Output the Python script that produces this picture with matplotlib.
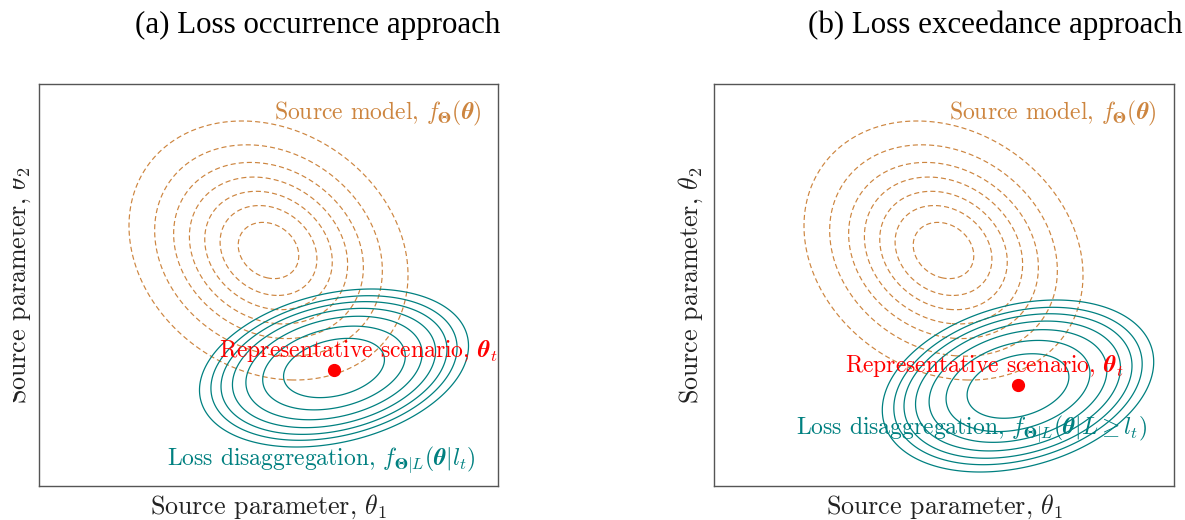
import numpy as np
import matplotlib
matplotlib.use("Agg")
import matplotlib.pyplot as plt
from matplotlib.patches import Rectangle

plt.rcParams['font.family'] = 'cmr10'
plt.rcParams['mathtext.fontset'] = 'cm'
plt.rcParams['axes.formatter.use_mathtext'] = True

# ---------------- data ----------------
panel_titles = ["(a) Loss occurrence approach", "(b) Loss exceedance approach"]
xlabel = r"Source parameter, $\theta_1$"
ylabel = r"Source parameter, $\theta_2$"
source_label = r"Source model, $f_{\boldsymbol{Θ}}(\boldsymbol{\theta})$"
scenario_label = r"Representative scenario, $\boldsymbol{\theta}_t$"
disagg_labels = [r"Loss disaggregation, $f_{\boldsymbol{Θ}|L}(\boldsymbol{\theta}|l_t)$",
                 r"Loss disaggregation, $f_{\boldsymbol{Θ}|L}(\boldsymbol{\theta}|L \geq l_t)$"]

# source model (same in both panels): centre, outer half-extents, correlation
source_center = (229.5, 235.5)
source_extent = (139.5, 129.5)
source_rho = -0.19
source_levels = [0.217, 0.347, 0.457, 0.567, 0.68, 0.816, 1.0]

# loss disaggregation, per panel
disagg_centers = [(295.0, 118.0), (304.0, 100.0)]
disagg_extents = [(134.5, 79.0), (135.7, 86.0)]
disagg_rho = [0.28, 0.28]
disagg_levels = [0.375, 0.53, 0.655, 0.755, 0.84, 0.915, 1.0]

# representative scenario points
scenario_x = [295.0, 304.3]
scenario_y = [116.0, 101.0]

# ---------------- style ----------------
C_SRC = '#CD853F'
C_DIS = '#008080'
C_RED = '#FF0000'
FS_IN = 17
FS_LAB = 18.7

W, H = 1185, 520
fig = plt.figure(figsize=(W / 100, H / 100), dpi=100)

axes_px = [(39, 84, 459, 402), (714, 84, 460, 402)]
src_text_x = [0.7386, 0.737]
scen_text = [(0.696, 0.320), (0.588, 0.284)]
dis_text = [(0.614, 0.052), (0.559, 0.129)]
ylabel_cx = [19, 690.5]


def mahal(X, Y, c, e, rho):
    u = (X - c[0]) / e[0]
    v = (Y - c[1]) / e[1]
    return np.sqrt((u * u - 2 * rho * u * v + v * v) / (1 - rho * rho))


for i in range(2):
    l, t, w, h = axes_px[i]
    ax = fig.add_axes([l / W, (H - t - h) / H, w / W, h / H])
    ax.set_xlim(0, w)
    ax.set_ylim(0, h)
    ax.set_xticks([])
    ax.set_yticks([])
    for sp in ax.spines.values():
        sp.set_color('#555555')
        sp.set_linewidth(1.0)

    xs = np.linspace(0, w, 600)
    ys = np.linspace(0, h, 600)
    X, Y = np.meshgrid(xs, ys)

    Ds = mahal(X, Y, source_center, source_extent, source_rho)
    ax.contour(X, Y, Ds, levels=source_levels, colors=C_SRC,
               linestyles=[(0, (4.3, 2.6))], linewidths=0.85)

    Dd = mahal(X, Y, disagg_centers[i], disagg_extents[i], disagg_rho[i])
    ax.contour(X, Y, Dd, levels=disagg_levels, colors=C_DIS,
               linestyles='solid', linewidths=0.9)

    ax.plot([scenario_x[i]], [scenario_y[i]], 'o', color=C_RED,
            markersize=8.5, zorder=5)

    ax.text(src_text_x[i], 0.912, source_label, transform=ax.transAxes,
            ha='center', va='baseline', color=C_SRC, fontsize=FS_IN)
    ax.text(scen_text[i][0], scen_text[i][1], scenario_label, transform=ax.transAxes,
            ha='center', va='baseline', color=C_RED, fontsize=FS_IN)
    ax.text(dis_text[i][0], dis_text[i][1], disagg_labels[i], transform=ax.transAxes,
            ha='center', va='baseline', color=C_DIS, fontsize=FS_IN)

    ax.text(0.5, (486 - 514) / h, xlabel, transform=ax.transAxes,
            ha='center', va='baseline', fontsize=FS_LAB, color='#222222')

    yl = fig.text(ylabel_cx[i] / W, (H - 285) / H, ylabel, rotation=90,
                  ha='center', va='center', fontsize=FS_LAB, color='#222222')
    if i == 0:
        yl.set_clip_path(Rectangle((13 / W, 0), 1, 1, transform=fig.transFigure))
        yl.set_clip_on(True)

fig.text(135 / W, (H - 33) / H, panel_titles[0], ha='left', va='baseline',
         fontsize=22.3, family='Liberation Serif')
fig.text(808 / W, (H - 33) / H, panel_titles[1], ha='left', va='baseline',
         fontsize=22.3, family='Liberation Serif')

fig.savefig('out.png', dpi=100)
